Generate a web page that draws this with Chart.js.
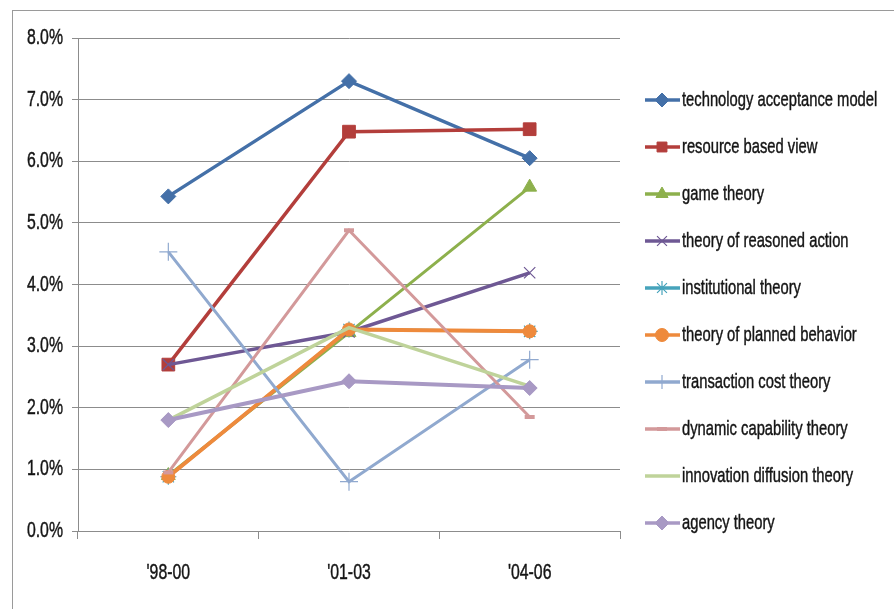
<!DOCTYPE html>
<html>
<head>
<meta charset="utf-8">
<script src="https://cdn.jsdelivr.net/npm/chart.js@4/dist/chart.umd.min.js"></script>
<style>
  html, body { margin: 0; padding: 0; background: #ffffff; }
  #wrap { width: 894px; height: 609px; position: relative; }
</style>
</head>
<body>
<div id="wrap"><canvas id="c" width="894" height="609"></canvas></div>
<script>
// Share of articles citing each theory, by period (percent)
const periods = ["'98-00", "'01-03", "'04-06"];
const techAcceptance   = [5.43, 7.30, 6.05];
const resourceBased    = [2.70, 6.48, 6.52];
const gameTheory       = [0.90, 3.22, 5.58];
const reasonedAction   = [2.70, 3.23, 4.19];
const institutional    = [0.88, 3.27, 3.24];
const plannedBehavior  = [0.88, 3.27, 3.24];
const transactionCost  = [4.53, 0.80, 2.78];
const dynamicCapability= [0.95, 4.88, 1.85];
const innovationDiff   = [1.80, 3.30, 2.35];
const agencyTheory     = [1.80, 2.43, 2.32];
const yTicks = [0, 1, 2, 3, 4, 5, 6, 7, 8];

const series = [
  { label: 'technology acceptance model', data: techAcceptance,   color: '#4470A8', style: 'rectRot',  r: 7.5, bw: 3.5, pbw: 1 },
  { label: 'resource based view',         data: resourceBased,    color: '#B33E3B', style: 'rect',     r: 9,   bw: 3.5, pbw: 1 },
  { label: 'game theory',                 data: gameTheory,       color: '#8DB04C', style: 'triangle', r: 8,   bw: 3,   pbw: 1 },
  { label: 'theory of reasoned action',   data: reasonedAction,   color: '#6E5894', style: 'crossRot', r: 8,   bw: 3.5, pbw: 1.2 },
  { label: 'institutional theory',        data: institutional,    color: '#46A3BB', style: 'star',     r: 8,   bw: 3,   pbw: 1.2 },
  { label: 'theory of planned behavior',  data: plannedBehavior,  color: '#EE8A3C', style: 'circle',   r: 6.5, bw: 4,   pbw: 1 },
  { label: 'transaction cost theory',     data: transactionCost,  color: '#90A9CF', style: 'cross',    r: 9,   bw: 3,   pbw: 1.2 },
  { label: 'dynamic capability theory',   data: dynamicCapability,color: '#D3999A', style: 'line',     r: 5,   bw: 3,   pbw: 4 },
  { label: 'innovation diffusion theory', data: innovationDiff,   color: '#BFD39A', style: 'line',     r: 0.1, bw: 3.5, pbw: 0 },
  { label: 'agency theory',               data: agencyTheory,     color: '#A899C4', style: 'rectRot',  r: 7.5, bw: 4,   pbw: 1 }
];

const FONT = '"Liberation Sans", Arial, sans-serif';
const SQUEEZE = 0.72;       // horizontal squeeze giving the tall, narrow lettering
const TEXT = '#151515';
const GRID = '#8c8c8c';

// Draws text squeezed horizontally around its anchor point
function narrowText(ctx, text, x, y, size, align) {
  ctx.save();
  ctx.translate(x, y);
  ctx.scale(SQUEEZE, 1);
  ctx.font = size + 'px ' + FONT;
  ctx.fillStyle = TEXT;
  ctx.strokeStyle = TEXT;
  ctx.lineWidth = 0.45;
  ctx.textAlign = align;
  ctx.textBaseline = 'middle';
  ctx.fillText(text, 0, 0);
  ctx.strokeText(text, 0, 0);
  ctx.restore();
}

// Outer frame of the chart object
const framePlugin = {
  id: 'frame',
  beforeDraw(chart) {
    const ctx = chart.ctx;
    ctx.save();
    ctx.fillStyle = '#ffffff';
    ctx.fillRect(0, 0, chart.width, chart.height);
    ctx.strokeStyle = '#9a9a9a';
    ctx.lineWidth = 1;
    ctx.strokeRect(12.5, 10.5, chart.width + 20, chart.height + 20);
    ctx.restore();
  }
};

// Tick labels placed from the scales' own tick positions
const axisLabels = {
  id: 'axisLabels',
  afterDraw(chart) {
    const ctx = chart.ctx;
    const ys = chart.scales.y, xs = chart.scales.x;
    ys.ticks.forEach(t => {
      const label = Number(t.value).toFixed(1) + '%';
      narrowText(ctx, label, ys.right - 15, ys.getPixelForValue(t.value), 22, 'right');
    });
    xs.ticks.forEach((t, i) => {
      narrowText(ctx, periods[i], xs.getPixelForTick(i), xs.top + 42, 22, 'center');
    });
  }
};

// Legend drawn as line-with-marker samples, one row per dataset
const lineLegend = {
  id: 'lineLegend',
  afterDraw(chart) {
    const ctx = chart.ctx;
    const x0 = 645, x1 = 680, xm = 662, xt = 682;
    const top = 100, step = 47;
    chart.data.datasets.forEach((ds, i) => {
      const y = top + i * step;
      ctx.save();
      ctx.strokeStyle = ds.borderColor;
      ctx.lineWidth = 3.5;
      ctx.beginPath();
      ctx.moveTo(x0, y);
      ctx.lineTo(x1, y);
      ctx.stroke();
      if (ds.pointRadius > 0.5) {
        ctx.fillStyle = ds.pointBackgroundColor;
        ctx.strokeStyle = ds.pointBorderColor;
        ctx.lineWidth = ds.pointBorderWidth;
        Chart.helpers.drawPoint(ctx, {
          pointStyle: ds.pointStyle,
          radius: Math.min(ds.pointRadius, 7),
          borderWidth: ds.pointBorderWidth,
          rotation: 0
        }, xm, y);
      }
      ctx.restore();
      narrowText(ctx, ds.label, xt, y, 20.5, 'left');
    });
  }
};

const datasets = series.map((s, i) => ({
  label: s.label,
  data: s.data,
  borderColor: s.color,
  backgroundColor: s.color,
  borderWidth: s.bw,
  pointStyle: s.style,
  pointRadius: s.r,
  pointBackgroundColor: s.color,
  pointBorderColor: s.color,
  pointBorderWidth: s.pbw,
  tension: 0,
  order: series.length - i
}));

new Chart(document.getElementById('c'), {
  type: 'line',
  data: { labels: periods, datasets },
  plugins: [framePlugin, axisLabels, lineLegend],
  options: {
    responsive: false,
    animation: false,
    layout: { padding: { left: 12, right: 274, top: 38, bottom: 0 } },
    plugins: {
      legend: { display: false },
      tooltip: { enabled: false },
      title: { display: false }
    },
    scales: {
      x: {
        offset: true,
        afterFit(axis) { axis.height = 78; },
        grid: {
          offset: true,
          drawOnChartArea: false,
          drawTicks: true,
          tickLength: 8,
          color: GRID,
          lineWidth: 1
        },
        border: { display: true, color: GRID, width: 1 },
        ticks: { display: false }
      },
      y: {
        min: 0,
        max: 8,
        afterFit(axis) { axis.width = 66; },
        afterBuildTicks(axis) { axis.ticks = yTicks.map(v => ({ value: v })); },
        grid: {
          color: GRID,
          lineWidth: 1,
          drawTicks: true,
          tickLength: 6
        },
        border: { display: true, color: GRID, width: 1 },
        ticks: { display: false }
      }
    }
  }
});
</script>
</body>
</html>
